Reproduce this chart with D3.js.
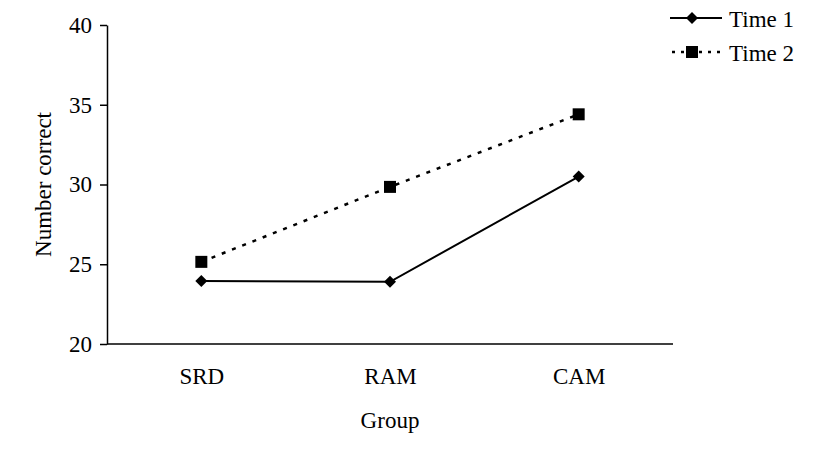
<!DOCTYPE html>
<html>
<head>
<meta charset="utf-8">
<script src="https://cdn.jsdelivr.net/npm/d3@7"></script>
<style>
  body { margin: 0; background: #fff; }
  svg text { font-family: "Liberation Serif", "Times New Roman", serif; fill: #000; }
</style>
</head>
<body>
<div id="chart"></div>
<script>
const groups = ["SRD", "RAM", "CAM"];
const time1 = [23.95, 23.9, 30.5];
const time2 = [25.15, 29.85, 34.4];
const yTicks = [20, 25, 30, 35, 40];
const seriesNames = ["Time 1", "Time 2"];

const width = 816, height = 468;
const margin = {top: 25, right: 143, bottom: 124, left: 107};
const serif = '"Liberation Serif", "Times New Roman", serif';

const svg = d3.select("#chart").append("svg")
  .attr("width", width).attr("height", height);

const x = d3.scalePoint()
  .domain(groups)
  .range([margin.left, width - margin.right])
  .padding(0.5);

const y = d3.scaleLinear()
  .domain([20, 40])
  .range([height - margin.bottom, margin.top]);

// y axis
const yAxis = svg.append("g")
  .attr("transform", `translate(${margin.left},0)`)
  .call(d3.axisLeft(y).tickValues(yTicks).tickSize(7).tickPadding(8).tickSizeOuter(0));
yAxis.attr("font-family", serif).attr("font-size", 23);
yAxis.select(".domain").attr("stroke", "#000").attr("stroke-width", 1.5);
yAxis.selectAll(".tick line").attr("stroke-width", 1.5);
yAxis.selectAll("text").style("font-size", "23px").style("font-family", serif).attr("fill", "#000");

// x axis, no ticks
const xAxis = svg.append("g")
  .attr("transform", `translate(0,${height - margin.bottom})`)
  .call(d3.axisBottom(x).tickSize(0).tickPadding(24).tickSizeOuter(0));
xAxis.attr("font-family", serif).attr("font-size", 23);
xAxis.select(".domain").attr("stroke", "#000").attr("stroke-width", 1.5)
  .attr("d", `M${margin.left},0H${width - margin.right}`);
xAxis.selectAll("text").style("font-size", "23px").style("font-family", serif).attr("fill", "#000");

// axis titles
svg.append("text")
  .attr("transform", `translate(51,${(margin.top + height - margin.bottom) / 2}) rotate(-90)`)
  .attr("text-anchor", "middle")
  .style("font-size", "23px").style("font-family", serif)
  .text("Number correct");

svg.append("text")
  .attr("x", x("RAM")).attr("y", 428)
  .attr("text-anchor", "middle")
  .style("font-size", "23px").style("font-family", serif)
  .text("Group");

const line = d3.line().x((d, i) => x(groups[i])).y(d => y(d));

// Time 2 (dotted, squares)
svg.append("path").datum(time2)
  .attr("d", line).attr("fill", "none")
  .attr("stroke", "#000").attr("stroke-width", 2.5)
  .attr("stroke-dasharray", "4,7");

svg.selectAll("rect.t2").data(time2).join("rect")
  .attr("class", "t2")
  .attr("x", (d, i) => x(groups[i]) - 6).attr("y", d => y(d) - 6)
  .attr("width", 12).attr("height", 12).attr("fill", "#000");

// Time 1 (solid, diamonds)
svg.append("path").datum(time1)
  .attr("d", line).attr("fill", "none")
  .attr("stroke", "#000").attr("stroke-width", 2);

svg.selectAll("path.t1").data(time1).join("path")
  .attr("class", "t1")
  .attr("d", d3.symbol().type(d3.symbolSquare).size(72))
  .attr("transform", (d, i) => `translate(${x(groups[i])},${y(d)}) rotate(45)`)
  .attr("fill", "#000");

// legend
const legend = svg.append("g");
const lx0 = 670, lx1 = 722;
const ly = [18, 52];

legend.append("line")
  .attr("x1", lx0).attr("x2", lx1).attr("y1", ly[0]).attr("y2", ly[0])
  .attr("stroke", "#000").attr("stroke-width", 2);
legend.append("path")
  .attr("d", d3.symbol().type(d3.symbolSquare).size(72))
  .attr("transform", `translate(692,${ly[0]}) rotate(45)`);

legend.append("line")
  .attr("x1", lx0 + 2).attr("x2", lx1).attr("y1", ly[1]).attr("y2", ly[1])
  .attr("stroke", "#000").attr("stroke-width", 2.5)
  .attr("stroke-dasharray", "3,6");
legend.append("rect")
  .attr("x", 686).attr("y", ly[1] - 6).attr("width", 12).attr("height", 12)
  .attr("fill", "#000");

legend.selectAll("text.leg").data(seriesNames).join("text")
  .attr("class", "leg")
  .attr("x", 729).attr("y", (d, i) => ly[i] + 1)
  .attr("dy", "0.35em")
  .style("font-size", "23px").style("font-family", serif)
  .text(d => d);
</script>
</body>
</html>
